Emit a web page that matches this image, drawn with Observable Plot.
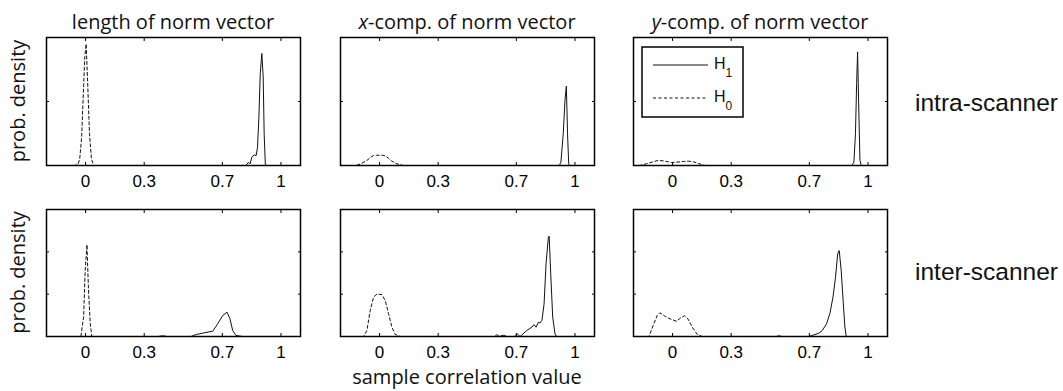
<!DOCTYPE html>
<html>
<head>
<meta charset="utf-8">
<script src="https://cdn.jsdelivr.net/npm/d3@7"></script>
<script src="https://cdn.jsdelivr.net/npm/@observablehq/plot@0.6"></script>
<style>
  html, body { margin: 0; padding: 0; background: #fff; }
  #root { position: relative; width: 1063px; height: 391px; overflow: hidden; background: #fff; }
  #root > svg { position: absolute; }
</style>
</head>
<body>
<div id="root"></div>
<script>
// ---------- data ----------
const xTicks = [0, 0.3, 0.7, 1];
const xTickLabels = ["0", "0.3", "0.7", "1"];
const titleVar = ["", "x", "y"];
const titleText = ["length of norm vector", "-comp. of norm vector", "-comp. of norm vector"];
const rowLabels = ["intra-scanner", "inter-scanner"];
const yLabel = "prob. density";
const xLabel = "sample correlation value";
const legendLabels = ["H", "H"];
const legendSubs = ["1", "0"];
const rowYMax = [40, 30];
const rowYTicks = [[0, 20, 40], [0, 10, 20, 30]];

// row 1, length of norm vector
const p1H1x = [0.80, 0.82, 0.834, 0.842, 0.851, 0.863, 0.873, 0.880, 0.887, 0.894, 0.902, 0.909, 0.914, 0.920, 0.928, 0.95];
const p1H1y = [0, 0, 1.0, 0.5, 2.6, 3.3, 3.1, 5.7, 15, 28.7, 35, 27.7, 9.9, 0.3, 0, 0];
const p1H0x = [-0.06, -0.04, -0.03, -0.02, -0.01, -0.004, 0.003, 0.01, 0.02, 0.03, 0.042, 0.06];
const p1H0y = [0, 0.2, 2, 9, 25, 34, 38, 27, 10, 2, 0, 0];
// row 1, x-comp.
const p2H1x = [0.90, 0.92, 0.928, 0.940, 0.949, 0.956, 0.962, 0.968, 0.974, 1.0];
const p2H1y = [0, 0, 1.0, 9.9, 20.4, 24.8, 9.9, 0.5, 0, 0];
const p2H0x = [-0.2, -0.119, -0.09, -0.065, -0.045, -0.031, -0.015, 0, 0.015, 0.029, 0.045, 0.063, 0.089, 0.123, 0.2];
const p2H0y = [0, 0, 0.73, 1.57, 2.6, 3.1, 3.2, 3.2, 3.2, 3.0, 2.3, 1.36, 0.52, 0, 0];
// row 1, y-comp.
const p3H1x = [0.90, 0.918, 0.928, 0.936, 0.942, 0.947, 0.952, 0.959, 0.966, 1.0];
const p3H1y = [0, 0, 1.04, 9.9, 25.6, 35.5, 20.4, 1.57, 0, 0];
const p3H0x = [-0.2, -0.168, -0.134, -0.100, -0.074, -0.048, -0.022, -0.005, 0.021, 0.055, 0.081, 0.107, 0.132, 0.167, 0.2];
const p3H0y = [0, 0, 0.52, 1.15, 1.57, 1.46, 1.15, 0.94, 1.04, 1.25, 1.36, 1.15, 0.63, 0, 0];
// row 2, length of norm vector
const p4H1x = [0.25, 0.293, 0.37, 0.395, 0.42, 0.54, 0.566, 0.600, 0.651, 0.676, 0.702, 0.724, 0.739, 0.753, 0.770, 0.804, 0.85];
const p4H1y = [0, 0, 0, 0.16, 0, 0, 0.47, 0.79, 1.26, 3.0, 4.96, 5.75, 4.2, 1.4, 0.24, 0, 0];
const p4H0x = [-0.05, -0.024, -0.010, -0.002, 0.007, 0.015, 0.024, 0.032, 0.06];
const p4H0y = [0, 0, 4.6, 15.6, 21.7, 10.9, 3.0, 0, 0];
// row 2, x-comp.
const p5H1x = [0.55, 0.591, 0.600, 0.612, 0.634, 0.651, 0.693, 0.705, 0.719, 0.753, 0.779, 0.790, 0.801, 0.813, 0.821, 0.831, 0.842, 0.852, 0.864, 0.868, 0.876, 0.886, 0.898, 0.906, 0.95];
const p5H1y = [0, 0, 0.47, 0, 0.3, 0, 0, 0.63, 0, 1.4, 2.2, 2.8, 2.2, 3.4, 3.2, 3.8, 7.7, 17.2, 23.5, 23.7, 14.8, 4.6, 0.6, 0, 0];
const p5H0x = [-0.12, -0.082, -0.065, -0.048, -0.031, -0.014, 0.012, 0.029, 0.046, 0.063, 0.080, 0.106, 0.14];
const p5H0y = [0, 0, 1.42, 6.1, 9.3, 10.0, 9.9, 8.5, 5.4, 2.2, 0.5, 0, 0];
// row 2, y-comp.
const p6H1x = [0.50, 0.53, 0.544, 0.561, 0.698, 0.724, 0.749, 0.766, 0.788, 0.805, 0.821, 0.834, 0.845, 0.853, 0.863, 0.874, 0.882, 0.889, 0.93];
const p6H1y = [0, 0, 0.16, 0, 0, 0.4, 0.8, 1.4, 3.0, 5.4, 9.3, 14.0, 19.5, 20.3, 15.6, 7.7, 2.2, 0, 0];
const p6H0x = [-0.16, -0.121, -0.096, -0.078, -0.065, -0.036, -0.010, 0.020, 0.041, 0.061, 0.078, 0.101, 0.126, 0.152, 0.19];
const p6H0y = [0, 0, 3.0, 5.0, 5.6, 4.7, 4.1, 3.6, 4.4, 4.9, 4.2, 2.2, 0.5, 0, 0];

const panels = [
  [[p1H1x, p1H1y, p1H0x, p1H0y], [p2H1x, p2H1y, p2H0x, p2H0y], [p3H1x, p3H1y, p3H0x, p3H0y]],
  [[p4H1x, p4H1y, p4H0x, p4H0y], [p5H1x, p5H1y, p5H0x, p5H0y], [p6H1x, p6H1y, p6H0x, p6H0y]]
];

// ---------- layout ----------
const colLeft = [46, 340, 633];
const rowTop = [37, 209];
const rowH = [128, 127];
const W = 254;
const ML = 20, MR = 20, MT = 6, MB = 34;
const SANS = "'Liberation Sans', Arial, Helvetica, sans-serif";
const MYRIAD = "'Open Sans', 'Noto Sans', sans-serif";

const root = document.getElementById("root");
const zip = (xs, ys) => xs.map((x, i) => ({x, y: ys[i]}));

function panel(d, r) {
  const [h1x, h1y, h0x, h0y] = d;
  const yT = rowYTicks[r];
  return Plot.plot({
    width: W + ML + MR,
    height: rowH[r] + MT + MB,
    marginLeft: ML, marginRight: MR, marginTop: MT, marginBottom: MB,
    x: {domain: [-0.2, 1.1]},
    y: {domain: [0, rowYMax[r]]},
    style: {fontFamily: SANS, fontSize: "17px", color: "black", background: "transparent", overflow: "visible"},
    marks: [
      Plot.line(zip(h0x, h0y), {x: "x", y: "y", stroke: "#111", strokeWidth: 1, strokeDasharray: "3,2.5", clip: true}),
      Plot.line(zip(h1x, h1y), {x: "x", y: "y", stroke: "#111", strokeWidth: 1, clip: true}),
      Plot.frame({stroke: "black", strokeWidth: 1.5}),
      Plot.axisX(xTicks, {anchor: "bottom", tickSize: -3, tickFormat: () => "", label: null}),
      Plot.axisX(xTicks, {anchor: "top", tickSize: -3, tickFormat: () => "", label: null}),
      Plot.axisX(xTicks, {anchor: "bottom", tickSize: 0, tickPadding: 9, tickFormat: v => xTickLabels[xTicks.indexOf(v)], label: null, fontSize: 17}),
      Plot.axisY(yT, {anchor: "left", tickSize: -3, tickFormat: () => "", label: null}),
      Plot.axisY(yT, {anchor: "right", tickSize: -3, tickFormat: () => "", label: null})
    ]
  });
}

for (let r = 0; r < 2; r++) {
  for (let c = 0; c < 3; c++) {
    const svg = panel(panels[r][c], r);
    svg.style.left = (colLeft[c] - ML) + "px";
    svg.style.top = (rowTop[r] - MT) + "px";
    svg.style.position = "absolute";
    root.appendChild(svg);
  }
}

// ---------- overlay text, labels and legend ----------
const ov = d3.create("svg").attr("width", 1063).attr("height", 391)
  .style("left", "0px").style("top", "0px").style("pointer-events", "none");

for (let c = 0; c < 3; c++) {
  const t = ov.append("text")
    .attr("x", colLeft[c] + W / 2).attr("y", 29)
    .attr("text-anchor", "middle")
    .attr("font-family", MYRIAD).attr("font-size", 20).attr("fill", "#111");
  if (titleVar[c]) t.append("tspan").attr("font-style", "italic").text(titleVar[c]);
  t.append("tspan").text(titleText[c]);
}

for (let r = 0; r < 2; r++) {
  const cy = rowTop[r] + rowH[r] / 2;
  ov.append("text")
    .attr("transform", `translate(25,${cy}) rotate(-90)`)
    .attr("text-anchor", "middle")
    .attr("font-family", MYRIAD).attr("font-size", 20).attr("fill", "#111")
    .text(yLabel);
}
ov.append("text")
  .attr("x", 915).attr("y", 111)
  .attr("font-family", SANS).attr("font-size", 24.5).attr("fill", "#111")
  .text(rowLabels[0]);
ov.append("text")
  .attr("x", 915).attr("y", 280)
  .attr("font-family", SANS).attr("font-size", 24.5).attr("fill", "#111")
  .text(rowLabels[1]);

ov.append("text")
  .attr("x", colLeft[1] + W / 2).attr("y", 384)
  .attr("text-anchor", "middle")
  .attr("font-family", MYRIAD).attr("font-size", 20).attr("fill", "#111")
  .text(xLabel);

// legend
const lg = ov.append("g");
lg.append("rect").attr("x", 642).attr("y", 47).attr("width", 101).attr("height", 70)
  .attr("fill", "white").attr("stroke", "black").attr("stroke-width", 1.5);
const legY = [65, 98];
const legDash = [null, "3,2.5"];
for (let i = 0; i < 2; i++) {
  lg.append("line").attr("x1", 653).attr("x2", 708).attr("y1", legY[i]).attr("y2", legY[i])
    .attr("stroke", "#111").attr("stroke-width", 1).attr("stroke-dasharray", legDash[i]);
  const t = lg.append("text").attr("x", 714).attr("y", legY[i] + 3.5)
    .attr("font-family", SANS).attr("font-size", 16).attr("fill", "#111");
  t.append("tspan").text(legendLabels[i]);
  t.append("tspan").attr("font-size", 12).attr("dy", 8).text(legendSubs[i]);
}

root.appendChild(ov.node());
</script>
</body>
</html>
